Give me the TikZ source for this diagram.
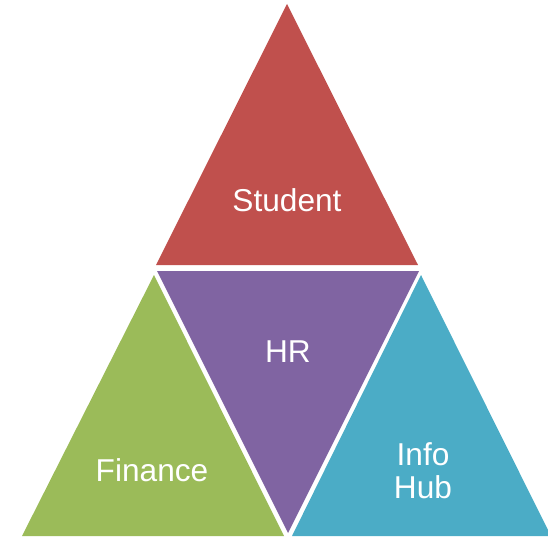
\documentclass[tikz,border=0pt]{standalone}
\usepackage{fontspec}
\setmainfont{Liberation Sans}
\definecolor{studentred}{HTML}{C0504D}
\definecolor{hrpurple}{HTML}{8064A2}
\definecolor{financegreen}{HTML}{9BBB59}
\definecolor{infoblue}{HTML}{4BACC6}
\tikzset{
	lbl/.style={text=white, font=\fontsize{18}{18.7}\selectfont, align=center}
}
\begin{document}
\begin{tikzpicture}[x=0.02cm, y=-0.02cm]
	\useasboundingbox (0, 0) rectangle (548, 537);
	\begin{scope}
	\clip (0, 0) rectangle (548, 537);
	
	% top
	\fill [studentred] (287, 4) -- (418, 265) -- (156, 265) -- cycle;
	
	% middle, upside down
	\fill [hrpurple] (157, 271) -- (419, 271) -- (288, 533) -- cycle;
	
	% left
	\fill [financegreen] (154, 275) -- (284, 536) -- (22, 536) -- cycle;
	
	% right
	\fill [infoblue] (421, 275) -- (551, 536) -- (292, 536) -- cycle;
	
	\end{scope}
	
	% labels
	\node [lbl] (student) at (287, 200) {Student};
	\node [lbl] (hr) at (288, 352) {HR};
	\node [lbl] (finance) at (152, 470) {Finance};
	\node [lbl] (infohub) at (423, 471) {Info\\Hub};
\end{tikzpicture}
\end{document}
